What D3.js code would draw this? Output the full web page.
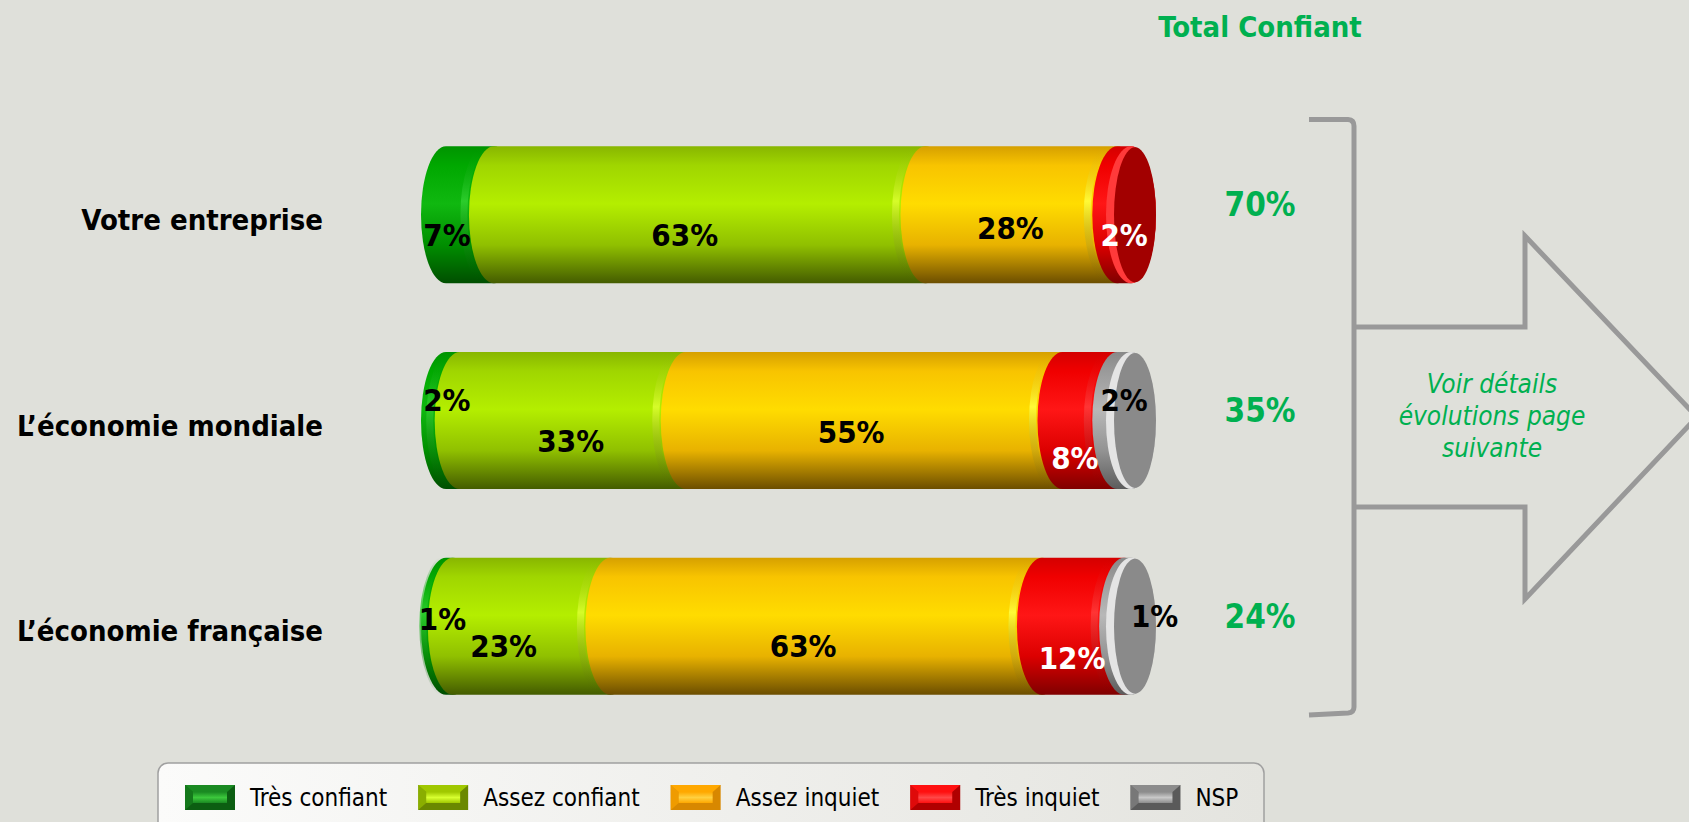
<!DOCTYPE html>
<html lang="fr">
<head>
    <meta charset="UTF-8">
    <title>Confiance</title>
    <script src="https://cdn.jsdelivr.net/npm/d3@7/dist/d3.min.js" charset="utf-8"></script>
    <style>
        body { margin: 0; background: #dfe0da; overflow: hidden; }
    </style>
</head>
<body>
    <script>
        // données
        let categories = ["Votre entreprise", "L\u2019économie mondiale", "L\u2019économie française"];
        let seriesNames = ["Très confiant", "Assez confiant", "Assez inquiet", "Très inquiet", "NSP"];
        let tresConfiant = [7, 2, 1];
        let assezConfiant = [63, 33, 23];
        let assezInquiet = [28, 55, 63];
        let tresInquiet = [2, 8, 12];
        let nsp = [0, 2, 1];
        let totalConfiant = [70, 35, 24];

        let width = 1689;
        let height = 822;
        let FONT = '"DejaVu Sans Condensed", "DejaVu Sans", sans-serif';
        let GREEN = "#00b050";

        // couleurs du cylindre (haut -> bas), reflet, face, puis légende
        let palette = [
            {top: "#009400", up: "#00a800", mid: "#10b810", low: "#008e00", bot: "#004e00", rim: "#30d030", face: "#007a00", label: "#000",
                sw: "#0c5e12", swHi: "#3cc83c", swTop: "#1a8a22"},
            {top: "#88b600", up: "#a0d600", mid: "#b4ee00", low: "#90c000", bot: "#445c00", rim: "#dcff30", face: "#88b000", label: "#000",
                sw: "#6a8800", swHi: "#d8ff30", swTop: "#a0c800"},
            {top: "#d6a000", up: "#f8c400", mid: "#ffdc00", low: "#e8b200", bot: "#6c4e00", rim: "#ffff40", face: "#e0a800", label: "#000",
                sw: "#d88800", swHi: "#ffd040", swTop: "#ffa800"},
            {top: "#d40000", up: "#f00000", mid: "#ff1616", low: "#dc0000", bot: "#800000", rim: "#ff3a3a", face: "#a20000", label: "#fff",
                sw: "#b00000", swHi: "#ff4848", swTop: "#ff1010"},
            {top: "#888888", up: "#9a9a9a", mid: "#b8b8b8", low: "#939393", bot: "#5c5c5c", rim: "#e4e4e4", face: "#8a8a8a", label: "#000",
                sw: "#5a5a5a", swHi: "#c8c8c8", swTop: "#8c8c8c"}
        ];

        // décalages des étiquettes (mise en page, comme dans l'original)
        let labelShift = [
            [[-23, 20], [-25, 20], [-11, 13], [0, 20], [0, 0]],
            [[-6, -21], [-2, 20], [-23, 11], [-15, 37], [0, -21]],
            [[-7, -7], [-28, 20], [-23, 20], [-11, 32], [27, -10]]
        ];

        let rows = categories.map((c, i) => ({
            cat: c,
            values: [tresConfiant[i], assezConfiant[i], assezInquiet[i], tresInquiet[i], nsp[i]]
        }));

        let svg = d3.select("body").append("svg")
            .attr("width", width)
            .attr("height", height)
            .style("display", "block")
            .style("font-family", FONT);

        svg.append("rect").attr("width", width).attr("height", height).attr("fill", "#dfe0da");

        let defs = svg.append("defs");
        palette.forEach((p, i) => {
            let g = defs.append("linearGradient").attr("id", "body" + i)
                .attr("x1", 0).attr("y1", 0).attr("x2", 0).attr("y2", 1);
            [[0, p.top], [14, p.up], [42, p.mid], [72, p.low], [100, p.bot]].forEach(s => {
                g.append("stop").attr("offset", s[0] + "%").attr("stop-color", s[1]);
            });
            let r = defs.append("linearGradient").attr("id", "rim" + i)
                .attr("x1", 0).attr("y1", 0).attr("x2", 0).attr("y2", 1);
            r.append("stop").attr("offset", "0%").attr("stop-color", p.top).attr("stop-opacity", 0);
            r.append("stop").attr("offset", "40%").attr("stop-color", p.rim).attr("stop-opacity", 0.85);
            r.append("stop").attr("offset", "100%").attr("stop-color", p.bot).attr("stop-opacity", 0);
            let s = defs.append("linearGradient").attr("id", "sw" + i)
                .attr("x1", 0).attr("y1", 0).attr("x2", 0).attr("y2", 1);
            s.append("stop").attr("offset", "0%").attr("stop-color", p.swTop);
            s.append("stop").attr("offset", "50%").attr("stop-color", p.swHi);
            s.append("stop").attr("offset", "100%").attr("stop-color", p.swTop);
        });
        let lg = defs.append("linearGradient").attr("id", "legendBg");
        lg.append("stop").attr("offset", "0%").attr("stop-color", "#fbfbfa");
        lg.append("stop").attr("offset", "100%").attr("stop-color", "#e4e4df");

        let x = d3.scaleLinear().domain([0, 100]).range([446, 1131]);
        let y = d3.scaleBand().domain(categories).range([112, 729])
            .paddingInner(0.334).paddingOuter(0.167);
        let rx = 25;
        let ry = y.bandwidth() / 2;

        function cylinder(x0, x1, top, bot) {
            return `M${x0},${top} A${rx},${ry} 0 0 0 ${x0},${bot} L${x1},${bot} A${rx},${ry} 0 0 0 ${x1},${top} Z`;
        }

        // barres empilées en cylindres
        rows.forEach((row, ri) => {
            let g = svg.append("g");
            let top = y(row.cat);
            let bot = top + y.bandwidth();
            let cy = top + ry;
            let acc = 0;
            let segs = [];
            row.values.forEach((v, si) => {
                if (v > 0) segs.push({si: si, v: v, x0: acc, x1: acc + v});
                acc += v;
            });
            segs.forEach((s, k) => {
                if (k > 0) {
                    // reflet de la face du segment précédent
                    g.append("path")
                        .attr("d", `M${x(s.x0) - 5},${top} A${rx},${ry} 0 0 0 ${x(s.x0) - 5},${bot}`)
                        .attr("fill", "none")
                        .attr("stroke", `url(#rim${segs[k - 1].si})`)
                        .attr("stroke-width", 7);
                }
                g.append("path")
                    .attr("d", cylinder(x(s.x0), x(s.x1), top, bot))
                    .attr("fill", `url(#body${s.si})`);
            });
            let last = segs[segs.length - 1];
            let p = palette[last.si];
            g.append("ellipse")
                .attr("cx", x(last.x1)).attr("cy", cy).attr("rx", rx).attr("ry", ry)
                .attr("fill", p.rim);
            g.append("ellipse")
                .attr("cx", x(last.x1) + 4).attr("cy", cy).attr("rx", rx - 4).attr("ry", ry - 1)
                .attr("fill", p.face);

            // étiquettes
            segs.forEach(s => {
                let sh = labelShift[ri][s.si];
                g.append("text")
                    .attr("x", x((s.x0 + s.x1) / 2) + sh[0])
                    .attr("y", cy + sh[1])
                    .attr("text-anchor", "middle")
                    .attr("dominant-baseline", "central")
                    .attr("font-size", 31)
                    .attr("font-weight", "bold")
                    .attr("fill", palette[s.si].label)
                    .text(s.v + "%");
            });

            // libellé de catégorie
            svg.append("text")
                .attr("x", 323)
                .attr("y", cy + 5)
                .attr("text-anchor", "end")
                .attr("dominant-baseline", "central")
                .attr("font-size", 29)
                .attr("font-weight", "bold")
                .attr("fill", "#000")
                .text(row.cat);

            // total confiant
            svg.append("text")
                .attr("x", 1260)
                .attr("y", cy - 10)
                .attr("text-anchor", "middle")
                .attr("dominant-baseline", "central")
                .attr("font-size", 33)
                .attr("font-weight", "bold")
                .attr("fill", GREEN)
                .text(totalConfiant[ri] + "%");
        });

        svg.append("text")
            .attr("x", 1260).attr("y", 37)
            .attr("text-anchor", "middle")
            .attr("font-size", 29)
            .attr("font-weight", "bold")
            .attr("fill", GREEN)
            .text("Total Confiant");

        // accolade et flèche
        svg.append("path")
            .attr("d", "M1309,119.5 L1348,119.5 Q1354,120 1354,126 L1354,707 Q1354,712.5 1348,713 L1309,715")
            .attr("fill", "none")
            .attr("stroke", "#999")
            .attr("stroke-width", 5);
        svg.append("path")
            .attr("d", "M1354,327 L1525,327 L1525,236 L1697,417 L1525,599 L1525,507 L1354,507")
            .attr("fill", "none")
            .attr("stroke", "#999")
            .attr("stroke-width", 5);
        let note = svg.append("text")
            .attr("text-anchor", "middle")
            .attr("font-size", 26)
            .attr("font-style", "italic")
            .attr("fill", GREEN);
        ["Voir détails", "évolutions page", "suivante"].forEach((t, i) => {
            note.append("tspan").attr("x", 1492).attr("y", 393 + i * 32).text(t);
        });

        // légende
        svg.append("rect")
            .attr("x", 158).attr("y", 763).attr("width", 1106).attr("height", 90)
            .attr("rx", 10)
            .attr("fill", "url(#legendBg)")
            .attr("stroke", "#a0a0a0")
            .attr("stroke-width", 1.5);
        let lx = 185;
        seriesNames.forEach((name, i) => {
            let p = palette[i];
            let item = svg.append("g").attr("transform", `translate(${lx},785)`);
            item.append("rect").attr("width", 50).attr("height", 25).attr("fill", p.sw);
            item.append("path")
                .attr("d", "M0,0 L50,0 L42,7 L8,7 Z")
                .attr("fill", p.swTop);
            item.append("path")
                .attr("d", "M0,0 L8,7 L8,18 L0,25 Z")
                .attr("fill", p.swTop).attr("opacity", 0.6);
            item.append("rect").attr("x", 8).attr("y", 7).attr("width", 34).attr("height", 11)
                .attr("fill", `url(#sw${i})`);
            let t = item.append("text")
                .attr("x", 65).attr("y", 13)
                .attr("dominant-baseline", "central")
                .attr("font-size", 24)
                .attr("fill", "#000")
                .text(name);
            lx += 65 + t.node().getComputedTextLength() + 31;
        });
    </script>
</body>
</html>
